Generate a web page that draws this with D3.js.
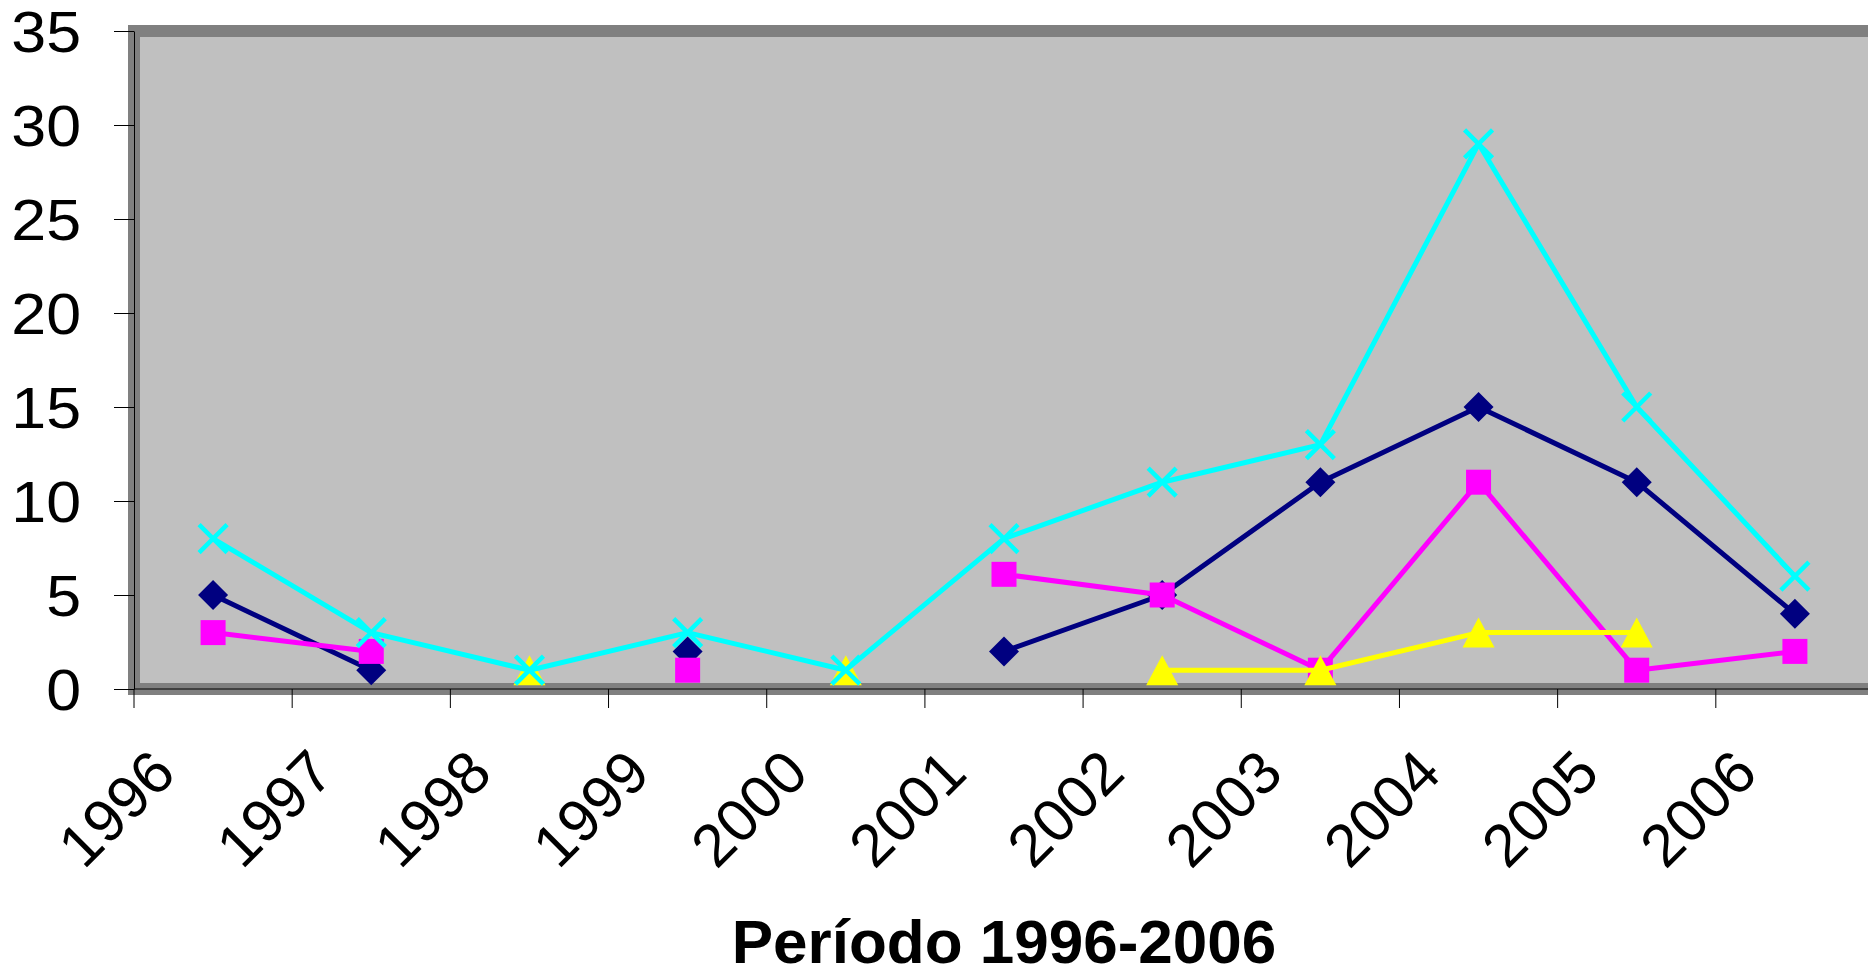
<!DOCTYPE html>
<html>
<head>
<meta charset="utf-8">
<script src="https://cdn.jsdelivr.net/npm/d3@7"></script>
<style>
  body { margin: 0; background: #fff; }
  svg { display: block; }
</style>
</head>
<body>
<div id="chart"></div>
<script>
// Data
const years = ['1996', '1997', '1998', '1999', '2000', '2001', '2002', '2003', '2004', '2005', '2006'];
const navyValues = [5, 1, null, 2, null, 2, 5, 11, 15, 11, 4];
const magentaValues = [3, 2, null, 1, null, 6.1, 5, 1, 11, 1, 2];
const yellowValues = [null, null, 1, null, 1, null, 1, 1, 3, 3, null];
const cyanValues = [8, 3, 1, 3, 1, 8, 11, 13, 29, 15, 6];
const yTicks = [0, 5, 10, 15, 20, 25, 30, 35];
const xTitle = 'Período 1996-2006';

const width = 1868;
const height = 975;
const plot = { left: 134, top: 31, right: 1874, bottom: 689 };
const font = '"Liberation Sans", Arial, sans-serif';

const svg = d3.select('#chart')
    .append('svg')
    .attr('width', width)
    .attr('height', height);

const x = d3.scaleBand().domain(years).range([plot.left, plot.right]);
const y = d3.scaleLinear().domain([0, 35]).range([plot.bottom, plot.top]);
const cx = d => x(d) + x.bandwidth() / 2;

// Plot area with thick gray frame
svg.append('rect')
    .attr('x', plot.left)
    .attr('y', plot.top)
    .attr('width', plot.right - plot.left)
    .attr('height', plot.bottom - plot.top)
    .attr('fill', '#c0c0c0')
    .attr('stroke', '#808080')
    .attr('stroke-width', 12);

// Y axis
const yAxis = svg.append('g')
    .attr('transform', `translate(${plot.left},0)`)
    .call(d3.axisLeft(y).tickValues(yTicks).tickSize(20).tickSizeOuter(0).tickPadding(33));
yAxis.select('.domain').attr('stroke', '#000').attr('stroke-width', 1);
yAxis.selectAll('.tick line').attr('stroke', '#000').attr('stroke-width', 1);
// labels are a little wider than the font, stretch them around their right edge
yAxis.selectAll('.tick text')
    .attr('font-family', font)
    .attr('font-size', 57)
    .attr('fill', '#000')
    .attr('dy', '0.36em')
    .attr('transform', 'translate(-53,0) scale(1.1,1) translate(53,0)');

// X axis line and ticks between categories
svg.append('line')
    .attr('x1', plot.left).attr('x2', plot.right)
    .attr('y1', plot.bottom).attr('y2', plot.bottom)
    .attr('stroke', '#000').attr('stroke-width', 1);

const boundaries = years.map(d => x(d)).concat([plot.right]);
svg.append('g')
    .selectAll('line')
    .data(boundaries)
    .enter()
    .append('line')
    .attr('x1', d => d).attr('x2', d => d)
    .attr('y1', plot.bottom).attr('y2', plot.bottom + 19)
    .attr('stroke', '#000')
    .attr('stroke-width', 1);

// Rotated year labels
svg.append('g')
    .selectAll('text')
    .data(years)
    .enter()
    .append('text')
    .attr('transform', d => `translate(${cx(d) - 35},776) rotate(-45)`)
    .attr('text-anchor', 'end')
    .attr('font-family', font)
    .attr('font-size', 60)
    .attr('fill', '#000')
    .text(d => d);

// Axis title
svg.append('text')
    .attr('x', (plot.left + plot.right) / 2)
    .attr('y', 963)
    .attr('text-anchor', 'middle')
    .attr('font-family', font)
    .attr('font-size', 62)
    .attr('font-weight', 'bold')
    .attr('fill', '#000')
    .text(xTitle);

// Marker shapes
const markers = {
    diamond: r => `M0,${-r}L${r},0L0,${r}L${-r},0Z`,
    square: r => `M${-r},${-r}H${r}V${r}H${-r}Z`,
    triangle: r => `M0,${-r}L${r + 1},${r}H${-r - 1}Z`,
    cross: r => `M${-r},${-r}L${r},${r}M${r},${-r}L${-r},${r}`
};

const series = [
    { name: 'navy', values: navyValues, color: '#000080', marker: 'diamond', r: 15 },
    { name: 'magenta', values: magentaValues, color: '#ff00ff', marker: 'square', r: 12.5 },
    { name: 'yellow', values: yellowValues, color: '#ffff00', marker: 'triangle', r: 15 },
    { name: 'cyan', values: cyanValues, color: '#00ffff', marker: 'cross', r: 14 }
];

const line = d3.line()
    .defined(d => d.value !== null)
    .x(d => cx(d.year))
    .y(d => y(d.value));

series.forEach(s => {
    const pts = years.map((year, i) => ({ year, value: s.values[i] }));
    const g = svg.append('g').attr('class', 'series-' + s.name);

    g.append('path')
        .datum(pts)
        .attr('d', line)
        .attr('fill', 'none')
        .attr('stroke', s.color)
        .attr('stroke-width', 5)
        .attr('stroke-linejoin', 'round');

    const isStroke = s.marker === 'cross';
    g.selectAll('path.marker')
        .data(pts.filter(d => d.value !== null))
        .enter()
        .append('path')
        .attr('class', 'marker')
        .attr('transform', d => `translate(${cx(d.year)},${y(d.value)})`)
        .attr('d', markers[s.marker](s.r))
        .attr('fill', isStroke ? 'none' : s.color)
        .attr('stroke', isStroke ? s.color : 'none')
        .attr('stroke-width', isStroke ? 4.5 : 0);
});
</script>
</body>
</html>
